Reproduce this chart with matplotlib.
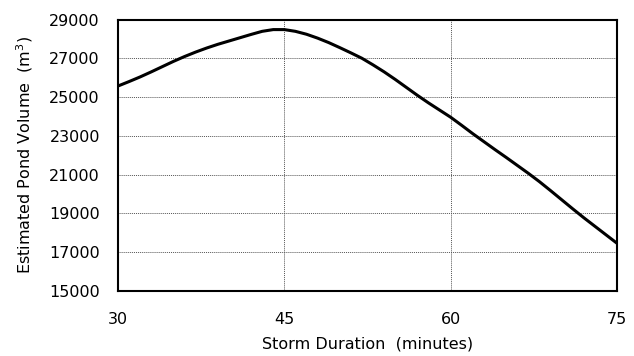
import numpy as np
import matplotlib.pyplot as plt

# storm duration (minutes) and estimated pond volume (m3)
duration = list(range(30, 76))
volume = [25570, 25800, 26040, 26300, 26570, 26840, 27090, 27320, 27530, 27720,
          27890, 28060, 28230, 28390, 28480, 28480, 28390, 28240, 28040, 27810,
          27550, 27280, 27000, 26660, 26300, 25910, 25500, 25090, 24700, 24330,
          23960, 23540, 23110, 22700, 22290, 21890, 21480, 21070, 20640, 20180,
          19710, 19240, 18780, 18340, 17900, 17460]

x_ticks = [30, 45, 60, 75]
y_ticks = np.arange(15000, 29001, 2000)

plt.rcParams['font.family'] = 'DejaVu Sans'

fig = plt.figure(figsize=(6.34, 3.56), dpi=100)
ax = fig.add_axes([0.1861, 0.1826, 0.7871, 0.7626])

ax.plot(duration, volume, color='black', lw=2.2, solid_joinstyle='round')

ax.set_xlim(30, 75)
ax.set_ylim(15000, 29000)
ax.set_xticks(x_ticks)
ax.set_yticks(y_ticks)
ax.tick_params(length=0, labelsize=11.5)
ax.tick_params(axis='x', pad=15)
ax.tick_params(axis='y', pad=13)
ax.grid(True, color='#555555', linestyle=(0, (1, 1)), lw=0.7)

for side in ax.spines.values():
    side.set_linewidth(1.5)

ax.set_xlabel('Storm Duration  (minutes)', fontsize=11.5, labelpad=7)
ax.set_ylabel('Estimated Pond Volume  (m$^3$)', fontsize=11.5, labelpad=10)

fig.savefig('out.png', dpi=100)
